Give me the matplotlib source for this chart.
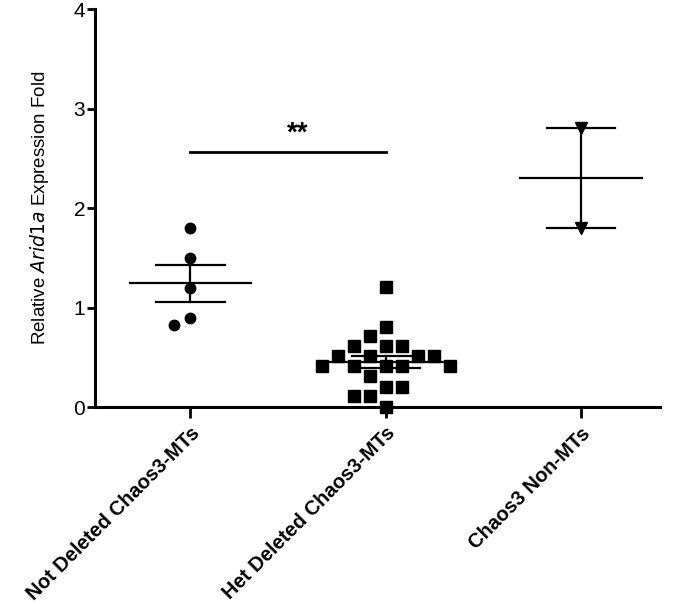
import matplotlib
matplotlib.use('Agg')
import matplotlib.pyplot as plt
import numpy as np

plt.rcParams['font.family'] = ['Liberation Sans', 'DejaVu Sans']

categories = ["Not Deleted Chaos3-MTs", "Het Deleted Chaos3-MTs", "Chaos3 Non-MTs"]
not_deleted = [1.80, 1.50, 1.20, 0.90, 0.82]
het_deleted = [1.21, 0.80, 0.71, 0.61, 0.61, 0.61, 0.51, 0.51, 0.51, 0.51,
               0.41, 0.41, 0.41, 0.41, 0.41, 0.31, 0.20, 0.20, 0.11, 0.11, 0.0]
non_mts = [2.80, 1.80]
groups = [not_deleted, het_deleted, non_mts]
markers = ['o', 's', 'v']
marker_sizes = [7.5, 9, 8]
sig_label = "**"
sig_y = 2.56


def swarm_offsets(ax, vals, step_px=8, wx=13, wy=11):
    # greedy beeswarm in pixel space: highest value first, nearest free slot
    vals = np.asarray(vals, dtype=float)
    p0 = ax.transData.transform((0, 0))
    p1 = ax.transData.transform((1, 1))
    sx, sy = p1[0] - p0[0], p1[1] - p0[1]
    cands = [0]
    for k in range(1, 40):
        cands += [-k * step_px, k * step_px]
    placed = []
    offs = np.zeros(len(vals))
    for i in np.argsort(-vals, kind='stable'):
        y = vals[i] * sy
        for c in cands:
            if all(abs(c - px) >= wx or abs(y - py) >= wy for px, py in placed):
                break
        placed.append((c, y))
        offs[i] = c / sx
    return offs


fig = plt.figure(figsize=(6.77, 6.04), dpi=100)
ax = fig.add_axes([0.140, 0.326, 0.835, 0.659])
ax.set_xlim(-0.49, 2.405)
ax.set_ylim(0, 4)

for i, (vals, m, ms) in enumerate(zip(groups, markers, marker_sizes)):
    vals = np.array(vals)
    x = i + swarm_offsets(ax, vals)
    ax.plot(x, vals, linestyle='none', marker=m, color='black', markersize=ms,
            clip_on=False, zorder=3)
    mean = vals.mean()
    sem = vals.std(ddof=1) / np.sqrt(len(vals))
    ax.plot([i - 0.31, i + 0.31], [mean, mean], color='black', lw=1.6, zorder=4)
    ax.plot([i - 0.175, i + 0.175], [mean + sem, mean + sem], color='black', lw=1.6, zorder=4)
    ax.plot([i - 0.175, i + 0.175], [mean - sem, mean - sem], color='black', lw=1.6, zorder=4)
    ax.plot([i, i], [mean - sem, mean + sem], color='black', lw=1.6, zorder=4)

# significance bar
ax.plot([0, 1], [sig_y, sig_y], color='black', lw=2)
ax.text(0.55, sig_y + 0.06, sig_label, ha='center', va='bottom', fontsize=20, fontweight='bold')

ax.set_yticks([0, 1, 2, 3, 4])
ax.set_yticklabels(['0', '1', '2', '3', '4'], fontsize=15)
ax.set_xticks(range(len(categories)))
ax.set_xticklabels(categories, rotation=45, ha='right', rotation_mode='anchor',
                   fontsize=14.5, fontweight='bold')
ax.tick_params(axis='y', length=6, width=2, pad=1)
ax.tick_params(axis='x', length=8, width=2, pad=4)
ax.set_ylabel(r"Relative $\it{Arid1a}$ Expression Fold", fontsize=13.5, labelpad=16)

for s in ['top', 'right']:
    ax.spines[s].set_visible(False)
for s in ['left', 'bottom']:
    ax.spines[s].set_linewidth(2.2)

fig.savefig('out.png', dpi=100)
